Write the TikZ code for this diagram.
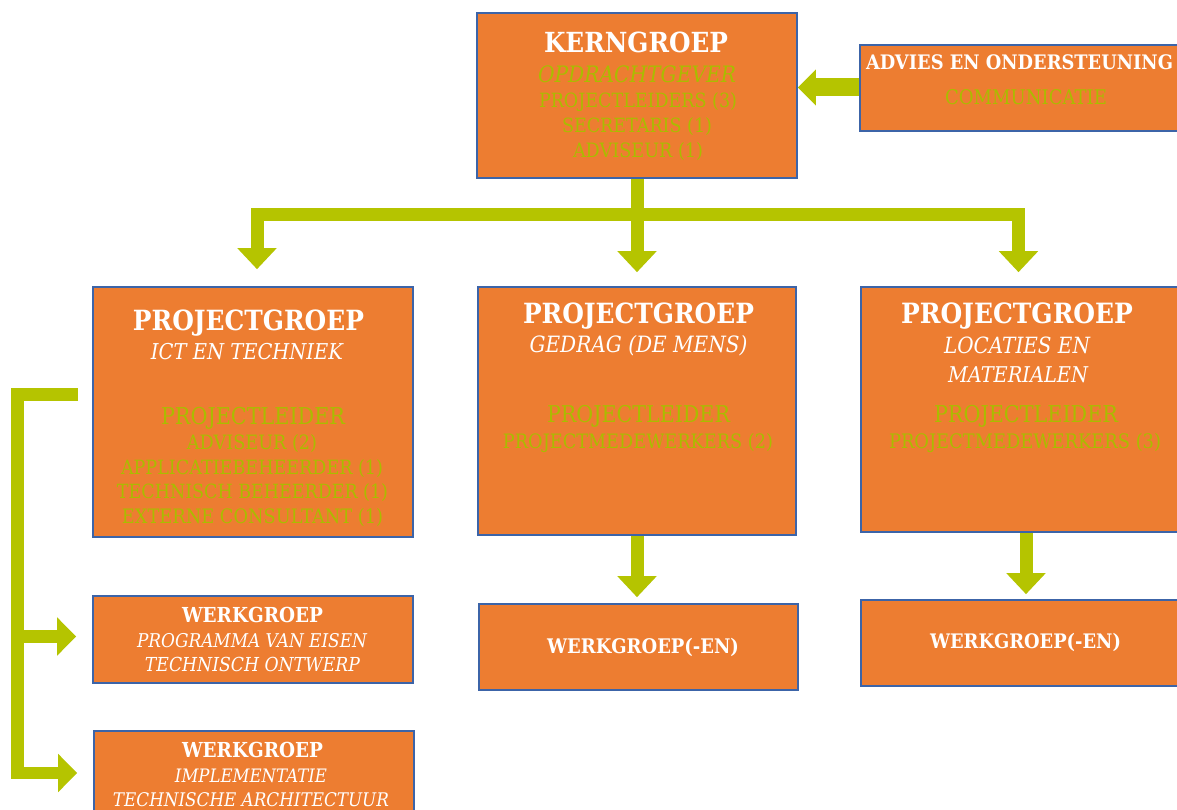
\documentclass[tikz,border=0pt]{standalone}
\usepackage{fontspec}
\setmainfont{DejaVu Serif}
\usetikzlibrary{arrows.meta}
\definecolor{boxorange}{HTML}{ED7D31}
\definecolor{boxblue}{HTML}{3C64A8}
\definecolor{arrgreen}{HTML}{B5C400}
\definecolor{txtgreen}{HTML}{AABC00}
\newcommand{\fitw}[2]{\scalebox{1}[1.12]{\resizebox{#1pt}{!}{#2}}}
\tikzset{
  box/.style={draw=boxblue, fill=boxorange, line width=1.6pt, rectangle, inner sep=0pt},
  ln/.style={inner sep=0pt, anchor=base, font=\fontsize{20}{24}\selectfont},
  ttl/.style={ln, text=white, font=\fontsize{20}{24}\selectfont\bfseries},
  sub/.style={ln, text=white, font=\fontsize{20}{24}\selectfont\itshape},
  grn/.style={ln, text=txtgreen},
  grni/.style={ln, text=txtgreen, font=\fontsize{20}{24}\selectfont\itshape},
  arr/.style={draw=arrgreen, line width=13pt, line join=miter, -{Triangle[width=38pt,length=21pt]}},
  barr/.style={draw=arrgreen, line width=12.5pt, line join=miter, -{Triangle[width=37pt,length=19pt]}}
}
\begin{document}
\begin{tikzpicture}[x=1pt,y=-1pt]
\clip (0,0) rectangle (1177,810);
\fill[white] (0,0) rectangle (1177,810);

% boxes
\node[box, minimum width=320pt, minimum height=165pt] (kern) at (637,95.5) {};
\node[box, minimum width=320pt, minimum height=86pt] (adv) at (1020,88) {};
\node[box, minimum width=320pt, minimum height=250pt] (ict) at (253,412) {};
\node[box, minimum width=318pt, minimum height=248pt] (ged) at (637,411) {};
\node[box, minimum width=319pt, minimum height=245pt] (loc) at (1020.5,409.5) {};
\node[box, minimum width=320pt, minimum height=87pt] (pve) at (253,639.5) {};
\node[box, minimum width=320pt, minimum height=87pt] (impl) at (254,774.5) {};
\node[box, minimum width=319pt, minimum height=86pt] (wm) at (638.5,647) {};
\node[box, minimum width=319pt, minimum height=86pt] (wr) at (1020.5,643) {};

% kerngroep text
\node[ttl] (k1) at (636,53) {\fitw{184}{KERNGROEP}};
\node[grni] (k2) at (637,83) {\fitw{198}{OPDRACHTGEVER}};
\node[grn] (k3) at (638,108) {\fitw{198}{PROJECTLEIDERS (3)}};
\node[grn] (k4) at (637,133) {\fitw{150}{SECRETARIS (1)}};
\node[grn] (k5) at (638,158) {\fitw{130}{ADVISEUR (1)}};

% advies text
\node[ttl] (a1) at (1019.5,70) {\fitw{307}{ADVIES EN ONDERSTEUNING}};
\node[grn] (a2) at (1026,105) {\fitw{162}{COMMUNICATIE}};

% ICT text
\node[ttl] (i1) at (248.5,330) {\fitw{231}{PROJECTGROEP}};
\node[sub] (i2) at (247,359) {\fitw{192}{ICT EN TECHNIEK}};
\node[grn] (i3) at (253,424) {\fitw{184}{PROJECTLEIDER}};
\node[grn] (i4) at (252,449) {\fitw{130}{ADVISEUR (2)}};
\node[grn] (i5) at (252,474) {\fitw{262}{APPLICATIEBEHEERDER (1)}};
\node[grn] (i6) at (252.5,498) {\fitw{271}{TECHNISCH BEHEERDER (1)}};
\node[grn] (i7) at (252.5,523) {\fitw{261}{EXTERNE CONSULTANT (1)}};

% Gedrag text
\node[ttl] (g1) at (638.5,323) {\fitw{231}{PROJECTGROEP}};
\node[sub] (g2) at (638.5,352) {\fitw{218}{GEDRAG (DE MENS)}};
\node[grn] (g3) at (638.5,422) {\fitw{183}{PROJECTLEIDER}};
\node[grn] (g4) at (638,448) {\fitw{270}{PROJECTMEDEWERKERS (2)}};

% Locaties text
\node[ttl] (l1) at (1017,323) {\fitw{232}{PROJECTGROEP}};
\node[sub] (l2) at (1017,353) {\fitw{146}{LOCATIES EN}};
\node[sub] (l3) at (1018,382) {\fitw{140}{MATERIALEN}};
\node[grn] (l4) at (1026,422) {\fitw{184}{PROJECTLEIDER}};
\node[grn] (l5) at (1025,448) {\fitw{272}{PROJECTMEDEWERKERS (3)}};

% werkgroep PvE
\node[ttl] (p1) at (252.5,622) {\fitw{141}{WERKGROEP}};
\node[sub] (p2) at (252,647) {\fitw{230}{PROGRAMMA VAN EISEN}};
\node[sub] (p3) at (252.5,671) {\fitw{215}{TECHNISCH ONTWERP}};

% werkgroep implementatie
\node[ttl] (m1) at (252.5,757) {\fitw{141}{WERKGROEP}};
\node[sub] (m2) at (251,782) {\fitw{152}{IMPLEMENTATIE}};
\node[sub] (m3) at (251,806) {\fitw{276}{TECHNISCHE ARCHITECTUUR}};

% werkgroep(-en)
\node[ttl] (w1) at (643,653) {\fitw{192}{WERKGROEP(-EN)}};
\node[ttl] (w2) at (1025.5,648) {\fitw{191}{WERKGROEP(-EN)}};

% connectors
\draw[draw=arrgreen, line width=18pt, -{Triangle[width=35pt,length=18pt]}] ([yshift=0.5pt]adv.west) -- ([yshift=0.5pt]kern.east |- adv.west);
\draw[arr, shorten >=17pt] (kern.south) -- (637,214.5) -| ([xshift=4pt]ict.north);
\draw[arr, shorten >=14pt] (kern.south) -- (ged.north);
\draw[arr, shorten >=14pt] (kern.south) -- (637,214.5) -| ([xshift=-2pt]loc.north);
\draw[arr, shorten >=6pt] (ged.south) -- (ged.south |- wm.north);
\draw[arr, shorten >=5pt] ([xshift=5.5pt]loc.south) -- ([xshift=5.5pt]loc.south |- wr.north);

\coordinate (bt) at (78,394.5);
\draw[barr, shorten >=16pt] (bt) -- (17.5,394.5) |- ([yshift=3pt]pve.west);
\draw[barr, shorten >=16pt] (17.5,600) |- ([yshift=1.5pt]impl.west);
\end{tikzpicture}
\end{document}
